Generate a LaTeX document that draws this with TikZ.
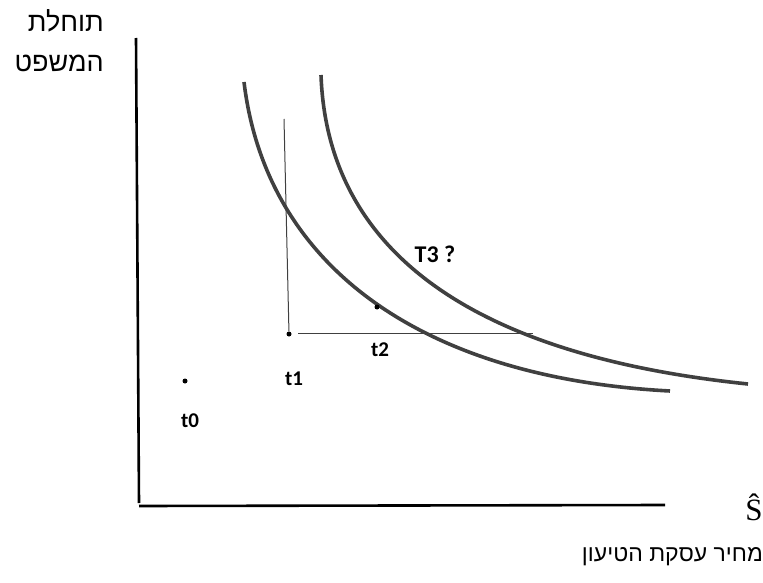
\documentclass[tikz,border=0pt]{standalone}
\usepackage{fontspec}
\setmainfont{Liberation Sans}
\newfontfamily\hebfont[Script=Hebrew]{Liberation Sans}
\newfontfamily\lblfont{Carlito}
\newfontfamily\serfont{Liberation Serif}
\TeXXeTstate=1
\definecolor{curvecol}{HTML}{404040}
\begin{document}
\begin{tikzpicture}[x=1pt,y=-1pt,
  axis/.style={line width=2.6pt,black},
  curve/.style={line width=3.6pt,curvecol},
  guide/.style={line width=1pt,curvecol},
  pt/.style={circle,fill=black,inner sep=0pt,minimum size=5pt},
  lbl/.style={font=\lblfont\bfseries\fontsize{21}{24}\selectfont,inner sep=0pt},
  heb/.style={font=\hebfont\fontsize{27}{30}\selectfont,inner sep=0pt}]
\useasboundingbox (0,0) rectangle (763,583);
% axes
\coordinate (ytop) at (136,38);
\coordinate (ybot) at (139,503);
\coordinate (orig) at (139,506);
\coordinate (xend) at (665,505);
\draw[axis] (ytop) -- (ybot);
\draw[axis] (orig) -- (xend);
% curves
\coordinate (c1s) at (244,82);
\coordinate (c1e) at (670,391);
\coordinate (c2s) at (321,75);
\coordinate (c2e) at (748,384);
\draw[curve] (c1s) .. controls (266,265) and (420,378) .. (c1e);
\draw[curve] (c2s) .. controls (326,215) and (420,350) .. (c2e);
% points
\node[pt] (p0) at (185,381) {};
\node[pt] (p1) at (289,334) {};
\node[pt] (p2) at (377,307) {};
\coordinate (vtop) at (284,119);
\coordinate (hstart) at (298,333);
\coordinate (hend) at (533,333);
\draw[guide] (vtop) -- (p1);
\draw[guide] (hstart) -- (hend);
% labels
\node[lbl] (l0) at (190,421) {t0};
\node[lbl] (l1) at (294,379) {t1};
\node[lbl] (l2) at (380,350) {t2};
\node[lbl,font=\lblfont\bfseries\fontsize{24}{28}\selectfont] (l3) at (435,254) {T3 ?};
% hebrew
\node[heb,anchor=east] (h1) at (104,21) {\beginR תוחלת\endR};
\node[heb,anchor=east] (h2) at (104,63) {\beginR המשפט\endR};
\node[heb,anchor=east,font=\hebfont\fontsize{23}{26}\selectfont] (h3) at (763,557) {\beginR מחיר עסקת הטיעון\endR};
\node[font=\serfont\fontsize{31}{34}\selectfont,inner sep=0pt,anchor=base] (s) at (754,520) {Ŝ};
\end{tikzpicture}
\end{document}
